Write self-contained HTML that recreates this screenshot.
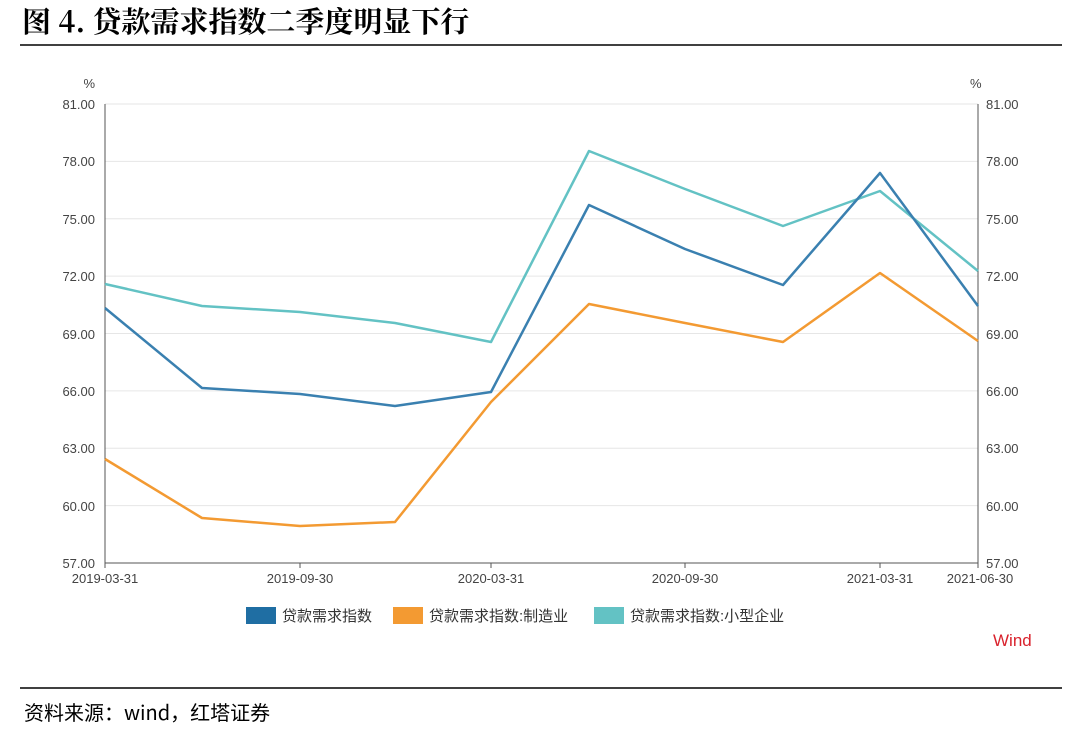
<!DOCTYPE html>
<html><head><meta charset="utf-8"><style>
body{margin:0;width:1080px;height:726px;background:#fff;overflow:hidden;font-family:"Liberation Sans","Noto Sans CJK SC",sans-serif}
</style></head><body>
<svg width="1080" height="726" xmlns="http://www.w3.org/2000/svg" font-family="Liberation Sans, Noto Sans CJK SC, sans-serif">
<text x="22" y="32" font-size="29" font-weight="bold" fill="#000" font-family="Noto Serif CJK SC, Liberation Serif, serif">图 4. 贷款需求指数二季度明显下行</text>
<line x1="20" y1="45" x2="1062" y2="45" stroke="#000" stroke-width="1.5"/>
<g stroke="#e6e6e6" stroke-width="1">
<line x1="105" y1="104" x2="978" y2="104"/><line x1="105" y1="161.4" x2="978" y2="161.4"/>
<line x1="105" y1="218.8" x2="978" y2="218.8"/><line x1="105" y1="276.1" x2="978" y2="276.1"/>
<line x1="105" y1="333.5" x2="978" y2="333.5"/><line x1="105" y1="390.9" x2="978" y2="390.9"/>
<line x1="105" y1="448.3" x2="978" y2="448.3"/><line x1="105" y1="505.6" x2="978" y2="505.6"/>
</g>
<g stroke="#555" stroke-width="1">
<line x1="105" y1="104" x2="105" y2="563"/><line x1="978" y1="104" x2="978" y2="563"/>
<line x1="105" y1="563" x2="978" y2="563"/>
<line x1="105" y1="563" x2="105" y2="568"/><line x1="300" y1="563" x2="300" y2="568"/>
<line x1="491" y1="563" x2="491" y2="568"/><line x1="685" y1="563" x2="685" y2="568"/>
<line x1="880" y1="563" x2="880" y2="568"/><line x1="978" y1="563" x2="978" y2="568"/>
</g>
<g font-size="13" fill="#444" text-anchor="end">
<text x="95" y="88">%</text>
<text x="95" y="109">81.00</text><text x="95" y="166">78.00</text><text x="95" y="224">75.00</text>
<text x="95" y="281">72.00</text><text x="95" y="339">69.00</text><text x="95" y="396">66.00</text>
<text x="95" y="453">63.00</text><text x="95" y="511">60.00</text><text x="95" y="568">57.00</text>
</g>
<g font-size="13" fill="#444">
<text x="970" y="88">%</text>
<text x="986" y="109">81.00</text><text x="986" y="166">78.00</text><text x="986" y="224">75.00</text>
<text x="986" y="281">72.00</text><text x="986" y="339">69.00</text><text x="986" y="396">66.00</text>
<text x="986" y="453">63.00</text><text x="986" y="511">60.00</text><text x="986" y="568">57.00</text>
</g>
<g font-size="13" fill="#444" text-anchor="middle">
<text x="105" y="583">2019-03-31</text><text x="300" y="583">2019-09-30</text>
<text x="491" y="583">2020-03-31</text><text x="685" y="583">2020-09-30</text>
<text x="880" y="583">2021-03-31</text><text x="980" y="583">2021-06-30</text>
</g>
<g fill="none" stroke-width="2.5" stroke-linejoin="round">
<polyline stroke="#63c2c4" points="105,284 202,306 300,312 395,323 491,342 589,151 685,189 783,226 880,191 978,271"/>
<polyline stroke="#3a80b0" points="105,308 202,388 300,394 395,406 491,392 589,205 685,249 783,285 880,173 978,306"/>
<polyline stroke="#f39a32" points="105,459 202,518 300,526 395,522 491,402 589,304 685,323 783,342 880,273 978,341"/>
</g>
<rect x="246" y="607" width="30" height="17" fill="#1f6ea3"/>
<text x="282" y="621" font-size="15" fill="#333">贷款需求指数</text>
<rect x="393" y="607" width="30" height="17" fill="#f39a32"/>
<text x="429" y="621" font-size="15" fill="#333">贷款需求指数:制造业</text>
<rect x="594" y="607" width="30" height="17" fill="#63c2c4"/>
<text x="630" y="621" font-size="15" fill="#333">贷款需求指数:小型企业</text>
<text x="993" y="646" font-size="17" fill="#d9232d">Wind</text>
<line x1="20" y1="688" x2="1062" y2="688" stroke="#000" stroke-width="1.5"/>
<text x="24" y="720" font-size="20" fill="#000" font-family="Noto Sans CJK SC, sans-serif">资料来源：wind，红塔证券</text>
</svg>
</body></html>
